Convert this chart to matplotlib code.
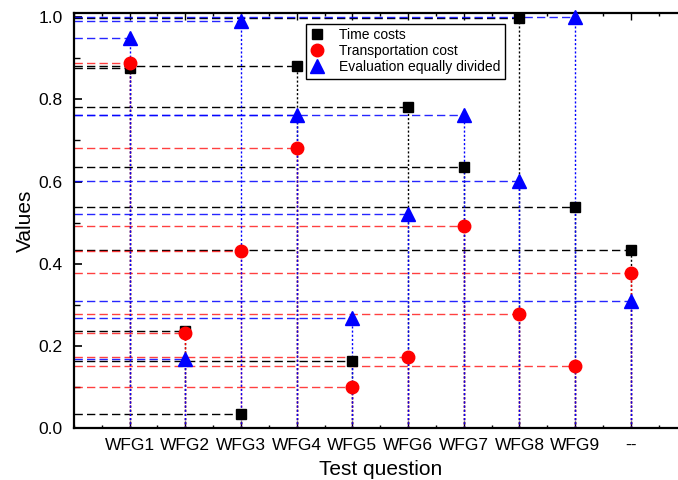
import matplotlib
matplotlib.use('Agg')
import matplotlib.pyplot as plt
from matplotlib.ticker import MultipleLocator

# dados
categorias = ['WFG1', 'WFG2', 'WFG3', 'WFG4', 'WFG5', 'WFG6', 'WFG7', 'WFG8', 'WFG9', '--']
time_costs = [0.876, 0.238, 0.036, 0.881, 0.165, 0.782, 0.636, 0.997, 0.538, 0.433]
transport_cost = [0.887, 0.233, 0.431, 0.682, 0.100, 0.173, 0.491, 0.279, 0.152, 0.379]
eval_divided = [0.950, 0.170, 0.990, 0.762, 0.268, 0.521, 0.762, 0.601, 1.000, 0.309]

plt.rcParams['font.family'] = ['Liberation Sans', 'DejaVu Sans']

fig = plt.figure(figsize=(6.78, 4.8), dpi=100)
ax = fig.add_axes([0.1091, 0.1073, 0.9034, 0.8646])

x = list(range(1, len(categorias) + 1))

series = [
    (time_costs, 'Time costs', 'black', 's', 7.5, 1.0),
    (transport_cost, 'Transportation cost', 'red', 'o', 9, 0.75),
    (eval_divided, 'Evaluation equally divided', 'blue', '^', 9.5, 0.85),
]

# linhas de projecao (horizontal ate o eixo y, vertical ate o eixo x)
for vals, nome, cor, marc, tam, alfa in series:
    ax.hlines(vals, 0, x, colors=cor, linestyles=(0, (6, 3)), linewidth=1, alpha=alfa, zorder=2)
    ax.vlines(x, 0, vals, colors=cor, linestyles=(0, (1.5, 1.5)), linewidth=1, zorder=2)

for vals, nome, cor, marc, tam, alfa in series:
    ax.plot(x, vals, linestyle='none', marker=marc, markersize=tam, color=cor,
            label=nome, zorder=3, clip_on=False)

ax.set_xlim(0, 11)
ax.set_ylim(0, 1.0085)
ax.set_xticks(x)
ax.set_xticklabels(categorias)
ax.xaxis.set_minor_locator(MultipleLocator(0.5))
ax.yaxis.set_major_locator(MultipleLocator(0.2))
ax.yaxis.set_minor_locator(MultipleLocator(0.1))
ax.yaxis.set_major_formatter(plt.FormatStrFormatter('%.1f'))

ax.tick_params(which='both', direction='in', top=True, right=True, labelsize=12.5)
ax.tick_params(axis='y', which='major', length=6, width=1.2, pad=8)
ax.tick_params(axis='y', which='minor', length=4, width=1.0)
ax.tick_params(axis='x', which='major', length=5, width=1.0, pad=7)
ax.tick_params(axis='x', which='minor', length=2.5, width=1.0)
for sp in ax.spines.values():
    sp.set_linewidth(1.6)

ax.set_xlabel('Test question', fontsize=15, labelpad=5)
ax.set_ylabel('Values', fontsize=15, labelpad=3)

leg = ax.legend(loc='upper left', bbox_to_anchor=(306 / 678, 1 - 24 / 480),
                bbox_transform=fig.transFigure, borderaxespad=0, fontsize=10,
                frameon=True, fancybox=False, framealpha=1, edgecolor='black',
                handlelength=1.0, handletextpad=1.1, labelspacing=0.15, borderpad=0.3)
leg.get_frame().set_linewidth(1.0)

plt.savefig('out.png', dpi=100)
plt.close()
